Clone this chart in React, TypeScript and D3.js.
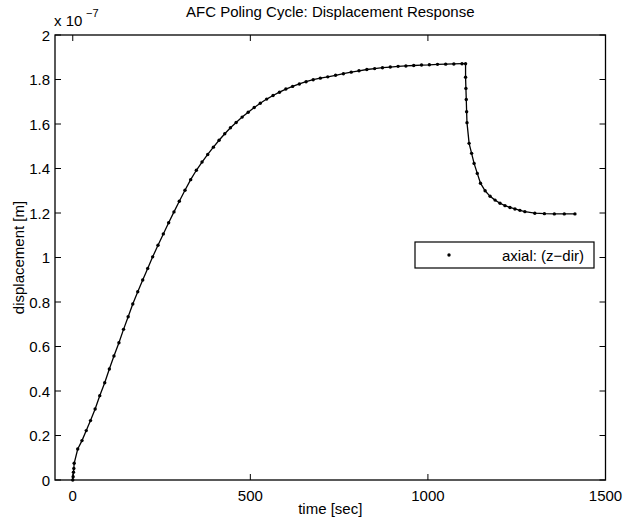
import React from "react";
import * as d3 from "d3";

const times: number[] = [
  0, 1, 2, 3, 4, 14, 26, 38, 50, 63, 76, 90, 103, 116, 130, 143, 156, 169, 183, 197, 211, 225,
  240, 255, 270, 285, 300, 316, 332, 348, 364, 380, 396, 412, 428, 444, 460, 477, 494, 511, 528,
  546, 564, 582, 600, 619, 638, 657, 677, 697, 718, 740, 762, 784, 806, 828, 850, 872, 894, 916,
  938, 960, 982, 1004, 1027, 1050, 1073, 1096, 1106,
  1106, 1107, 1108, 1109, 1110, 1116, 1123, 1130, 1139, 1148, 1161, 1175, 1189, 1203, 1217, 1231,
  1245, 1259, 1273, 1301, 1328, 1356, 1384, 1414,
];
const axial: number[] = [
  0, 0.015, 0.035, 0.052, 0.075, 0.139, 0.177, 0.222, 0.267, 0.319, 0.379, 0.437, 0.499, 0.557,
  0.617, 0.677, 0.734, 0.791, 0.846, 0.899, 0.951, 1.003,
  1.055, 1.106, 1.156, 1.205, 1.253, 1.302, 1.35, 1.392, 1.429, 1.463, 1.496, 1.527, 1.556, 1.583,
  1.607, 1.631, 1.653, 1.674, 1.693, 1.712, 1.728, 1.743, 1.757, 1.769, 1.78, 1.79, 1.799, 1.806,
  1.812, 1.819, 1.826, 1.833, 1.839, 1.845, 1.849, 1.853, 1.856, 1.859, 1.861, 1.863, 1.865,
  1.866, 1.868, 1.869, 1.87, 1.871, 1.871,
  1.81, 1.76, 1.71, 1.655, 1.606, 1.513, 1.468, 1.423, 1.378, 1.334, 1.3, 1.275, 1.258, 1.244,
  1.233, 1.225, 1.218, 1.212, 1.206, 1.199, 1.197, 1.196, 1.196, 1.196,
];
const xTicks: number[] = [0, 500, 1000, 1500];
const yTicks: number[] = [0, 0.2, 0.4, 0.6, 0.8, 1, 1.2, 1.4, 1.6, 1.8, 2];
const title = "AFC Poling Cycle: Displacement Response";
const xLabel = "time [sec]";
const yLabel = "displacement [m]";
const legendLabel = "axial: (z\u2212dir)";

export default function App() {
  const W = 626, H = 525;
  const L = 55, R = 605.5, T = 35, B = 480;
  const x = d3.scaleLinear().domain([-50, 1500]).range([L, R]);
  const y = d3.scaleLinear().domain([0, 2]).range([B, T]);
  const pts = times.map((t, i) => [t, axial[i]] as [number, number]);
  const line = d3.line<[number, number]>().x((d) => x(d[0])).y((d) => y(d[1]));
  const font = "'Liberation Sans', Arial, Helvetica, sans-serif";
  const tl = 6;
  const fs = 15;
  return (
    <svg width={W} height={H} style={{ position: "absolute", left: 0, top: 0, background: "#fff" }} fontFamily={font}>
      <rect x={0} y={0} width={W} height={H} fill="#fff" />
      <text x={(L + R) / 2} y={17} textAnchor="middle" fontSize={fs}>{title}</text>
      <rect x={L} y={T} width={R - L} height={B - T} fill="none" stroke="#000" strokeWidth={1.3} />
      {xTicks.map((t) => (
        <g key={"x" + t}>
          <line x1={x(t)} x2={x(t)} y1={B} y2={B - tl} stroke="#000" />
          <line x1={x(t)} x2={x(t)} y1={T} y2={T + tl} stroke="#000" />
          <text x={x(t)} y={B + 21} textAnchor="middle" fontSize={fs}>{t}</text>
        </g>
      ))}
      {yTicks.map((t) => (
        <g key={"y" + t}>
          <line x1={L} x2={L + tl} y1={y(t)} y2={y(t)} stroke="#000" />
          <line x1={R} x2={R - tl} y1={y(t)} y2={y(t)} stroke="#000" />
          <text x={L - 5} y={y(t) + 5.5} textAnchor="end" fontSize={fs}>{d3.format("~g")(t)}</text>
        </g>
      ))}
      <text x={54} y={26} fontSize={fs}>x 10</text>
      <text x={86} y={17} fontSize={11}>{"\u22127"}</text>
      <text x={(L + R) / 2} y={514} textAnchor="middle" fontSize={fs}>{xLabel}</text>
      <text transform={`translate(24, ${(T + B) / 2}) rotate(-90)`} textAnchor="middle" fontSize={fs}>{yLabel}</text>
      <path d={line(pts) || ""} fill="none" stroke="#000" strokeWidth={1.3} />
      {pts.map((p, i) => (
        <circle key={i} cx={x(p[0])} cy={y(p[1])} r={1.7} fill="#000" />
      ))}
      <rect x={415} y={242} width={179} height={26} fill="#fff" stroke="#000" strokeWidth={1.2} />
      <circle cx={449} cy={255} r={1.7} fill="#000" />
      <text x={584} y={260.5} textAnchor="end" fontSize={fs}>{legendLabel}</text>
    </svg>
  );
}
